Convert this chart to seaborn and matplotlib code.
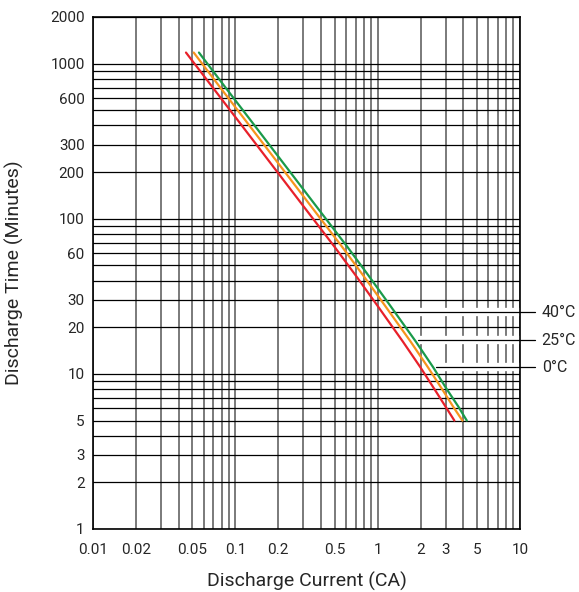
import pandas as pd
import matplotlib
matplotlib.use("Agg")
import matplotlib.pyplot as plt
import matplotlib.patheffects as pe
import seaborn as sns

# discharge curves (current in CA, time in minutes)
current_0c = [0.045, 0.07, 0.1, 0.2, 0.3, 0.5, 0.7, 1.0, 1.5, 2.0, 2.5, 3.0, 3.46]
time_0c = [1180, 695, 453, 197, 121, 65.6, 43.2, 27.4, 16.2, 11.0, 8.0, 6.15, 5.0]
current_25c = [0.051, 0.079, 0.113, 0.226, 0.339, 0.565, 0.79, 1.13, 1.70, 2.26, 2.83, 3.39, 3.94]
time_25c = [1180, 695, 453, 197, 121, 65.6, 43.2, 27.4, 16.2, 11.0, 8.0, 6.15, 5.0]
current_40c = [0.0555, 0.086, 0.123, 0.246, 0.369, 0.615, 0.86, 1.23, 1.85, 2.46, 3.05, 3.69, 4.23]
time_40c = [1180, 695, 453, 197, 121, 65.6, 43.2, 27.4, 16.2, 11.0, 8.0, 6.15, 5.0]

temps = ["0°C", "25°C", "40°C"]
colors = ["#e8202a", "#f7941d", "#1a9a4a"]

# callout labels on the right
label_names = ["40°C", "25°C", "0°C"]
label_times = [25, 16.5, 11]
label_start = [1.25, 1.93, 2.55]

x_ticks = [0.01, 0.02, 0.05, 0.1, 0.2, 0.5, 1, 2, 3, 5, 10]
x_ticklabels = ["0.01", "0.02", "0.05", "0.1", "0.2", "0.5", "1", "2", "3", "5", "10"]
y_ticks = [1, 2, 3, 5, 10, 20, 30, 60, 100, 200, 300, 600, 1000, 2000]
y_ticklabels = ["1", "2", "3", "5", "10", "20", "30", "60", "100", "200", "300", "600", "1000", "2000"]

x_grid = [m * d for d in [0.01, 0.1, 1] for m in range(2, 10)]
y_grid = [m * d for d in [1, 10, 100] for m in range(2, 10)] + [1000]

df = pd.concat([
    pd.DataFrame({"current": current_0c, "time": time_0c, "temp": temps[0]}),
    pd.DataFrame({"current": current_25c, "time": time_25c, "temp": temps[1]}),
    pd.DataFrame({"current": current_40c, "time": time_40c, "temp": temps[2]}),
])

sns.set_style("white")
plt.rcParams["font.family"] = ["Roboto", "DejaVu Sans"]

fig = plt.figure(figsize=(5.79, 5.92), dpi=100)
ax = fig.add_axes([93 / 579, 1 - 529 / 592, 427 / 579, 512 / 592])

sns.lineplot(data=df, x="current", y="time", hue="temp", palette=dict(zip(temps, colors)),
             estimator=None, sort=False, linewidth=1.6, legend=False, ax=ax, zorder=4)

ax.set_xscale("log")
ax.set_yscale("log")
ax.set_xlim(0.01, 10)
ax.set_ylim(1, 2000)

ax.set_xticks(x_ticks)
ax.set_xticklabels(x_ticklabels)
ax.set_xticks(x_grid, minor=True)
ax.set_yticks(y_ticks)
ax.set_yticklabels(y_ticklabels)
ax.set_yticks(y_grid, minor=True)
ax.tick_params(which="both", length=0)
ax.tick_params(axis="x", which="major", pad=10, labelsize=11)
ax.tick_params(axis="y", which="major", pad=6, labelsize=11)
ax.tick_params(which="minor", labelbottom=False, labelleft=False)

ax.grid(axis="x", which="both", color="#7a7a7a", linewidth=1.4)
ax.grid(axis="y", which="both", color="black", linewidth=0.9)
ax.set_axisbelow(True)

for s in ax.spines.values():
    s.set_color("black")
    s.set_linewidth(1.2)
    s.set_zorder(3)

# leader lines with white halo cutting the grid
for name, t, x0 in zip(label_names, label_times, label_start):
    ax.plot([x0, 12.8], [t, t], color="black", linewidth=0.9, clip_on=False, zorder=2,
            path_effects=[pe.withStroke(linewidth=6, foreground="white")])
    ax.text(14.2, t, name, va="center", ha="left", fontsize=11.5)

ax.set_xlabel("Discharge Current (CA)", fontsize=14, labelpad=11)
ax.set_ylabel("Discharge Time (Minutes)", fontsize=14, labelpad=19)

fig.savefig("out.png", dpi=100)
